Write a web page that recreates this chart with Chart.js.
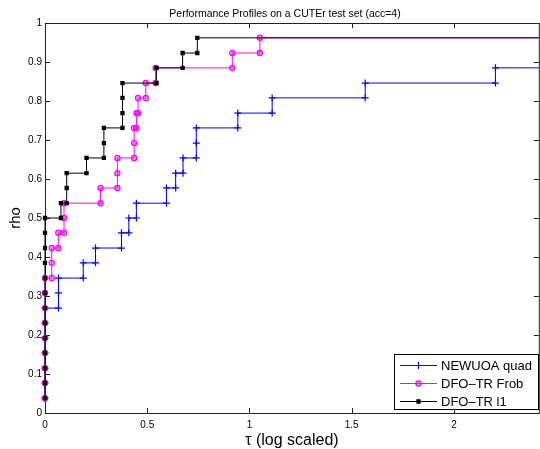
<!DOCTYPE html>
<html>
<head>
<meta charset="utf-8">
<script src="https://cdn.jsdelivr.net/npm/chart.js@4/dist/chart.umd.min.js"></script>
<style>
  html, body { margin: 0; padding: 0; background: #fff; overflow: hidden; }
  canvas { display: block; }
</style>
</head>
<body>
<canvas id="perf" width="544" height="449"></canvas>
<script>
// données (tau en échelle log, rho = fraction des problèmes)
const plotTitle = 'Performance Profiles on a CUTEr test set (acc=4)';
const seriesNames = ['NEWUOA quad', 'DFO\u2013TR Frob', 'DFO\u2013TR l1'];

const newuoaTau = [0, 0, 0, 0, 0, 0, 0, 0.066, 0.066, 0.187, 0.247, 0.374, 0.410, 0.447,
  0.594, 0.639, 0.675, 0.740, 0.740, 0.943, 1.111, 1.566, 2.203];
const newuoaRho = [0.038, 0.077, 0.115, 0.154, 0.192, 0.231, 0.269, 0.308, 0.346, 0.385, 0.423, 0.462, 0.500, 0.538,
  0.577, 0.615, 0.654, 0.692, 0.731, 0.769, 0.808, 0.846, 0.885];

const frobTau = [0, 0, 0, 0, 0, 0, 0, 0, 0, 0.033, 0.033, 0.065, 0.093, 0.093,
  0.272, 0.354, 0.354, 0.436, 0.436, 0.447, 0.455, 0.493, 0.541, 0.916, 1.051];
const frobRho = [0.038, 0.077, 0.115, 0.154, 0.192, 0.231, 0.269, 0.308, 0.346, 0.385, 0.423, 0.462, 0.500, 0.538,
  0.577, 0.615, 0.654, 0.692, 0.731, 0.769, 0.808, 0.846, 0.885, 0.923, 0.962];

const l1Tau = [0, 0, 0, 0, 0, 0, 0, 0, 0, 0, 0, 0, 0, 0.078,
  0.106, 0.106, 0.203, 0.288, 0.288, 0.379, 0.379, 0.379, 0.545, 0.673, 0.745];
const l1Rho = [0.038, 0.077, 0.115, 0.154, 0.192, 0.231, 0.269, 0.308, 0.346, 0.385, 0.423, 0.462, 0.500, 0.538,
  0.577, 0.615, 0.654, 0.692, 0.731, 0.769, 0.808, 0.846, 0.885, 0.923, 0.962];

const tauEnd = 2.5;   // les courbes continuent jusqu'au bord droit
const xTickValues = [0, 0.5, 1, 1.5, 2];
const yTickValues = [0, 0.1, 0.2, 0.3, 0.4, 0.5, 0.6, 0.7, 0.8, 0.9, 1];

const FONT = '"Liberation Sans", Arial, Helvetica, sans-serif';

// escalier façon matlab : un point à chaque coin
function stairPoints(tau, rho) {
  const pts = [];
  for (let i = 0; i < tau.length; i++) {
    pts.push({ x: tau[i], y: rho[i] });
    const next = i + 1 < tau.length ? tau[i + 1] : tauEnd;
    if (next !== tau[i]) pts.push({ x: next, y: rho[i] });
  }
  return pts;
}

const styles = [
  { color: '#0000ff', marker: 'cross', radius: 3.5, fill: '#0000ff', order: 3 },
  { color: '#ff00ff', marker: 'circle', radius: 2.6, fill: 'rgba(255,0,255,0.35)', order: 2 },
  { color: '#000000', marker: 'rect', radius: 2.2, fill: '#000000', order: 1 }
];
const seriesData = [stairPoints(newuoaTau, newuoaRho), stairPoints(frobTau, frobRho), stairPoints(l1Tau, l1Rho)];

const datasets = seriesData.map((pts, i) => ({
  label: seriesNames[i],
  data: pts,
  borderColor: styles[i].color,
  borderWidth: 1,
  backgroundColor: styles[i].fill,
  pointStyle: styles[i].marker,
  pointRadius: styles[i].radius,
  pointBorderColor: styles[i].color,
  pointBackgroundColor: styles[i].fill,
  pointBorderWidth: 1.2,
  fill: false,
  tension: 0,
  order: styles[i].order,
  clip: { left: 6, top: 6, right: 0, bottom: 6 }
}));

// cadre, graduations internes, titre et légende à la matlab
const matlabFrame = {
  id: 'matlabFrame',
  beforeDatasetsDraw(chart) {
    const { ctx, chartArea: a, scales } = chart;
    ctx.save();
    ctx.strokeStyle = '#222';
    ctx.lineWidth = 1;
    ctx.strokeRect(a.left + 0.5, a.top + 0.5, a.right - a.left, a.bottom - a.top);
    ctx.beginPath();
    const tl = 5;
    xTickValues.forEach(v => {
      const px = Math.round(scales.x.getPixelForValue(v)) + 0.5;
      ctx.moveTo(px, a.bottom); ctx.lineTo(px, a.bottom - tl);
      ctx.moveTo(px, a.top); ctx.lineTo(px, a.top + tl);
    });
    yTickValues.forEach(v => {
      const py = Math.round(scales.y.getPixelForValue(v)) + 0.5;
      ctx.moveTo(a.left, py); ctx.lineTo(a.left + tl, py);
      ctx.moveTo(a.right, py); ctx.lineTo(a.right - tl, py);
    });
    ctx.stroke();
    ctx.restore();
  },
  afterDraw(chart) {
    const { ctx } = chart;
    ctx.save();
    // titre
    ctx.fillStyle = '#000';
    ctx.font = '10.5px ' + FONT;
    ctx.textAlign = 'center';
    ctx.textBaseline = 'middle';
    ctx.fillText(plotTitle, 285, 14);

    // légende
    const bx = 394.5, by = 354.5, bw = 144, bh = 55;
    ctx.fillStyle = '#fff';
    ctx.fillRect(bx, by, bw, bh);
    ctx.strokeStyle = '#000';
    ctx.lineWidth = 1;
    ctx.strokeRect(bx, by, bw, bh);
    ctx.font = '13px ' + FONT;
    ctx.textAlign = 'left';
    seriesNames.forEach((name, i) => {
      const y = 365.5 + i * 18;
      const st = styles[i];
      ctx.strokeStyle = st.color;
      ctx.lineWidth = 1;
      ctx.beginPath();
      ctx.moveTo(400, y); ctx.lineTo(437, y);
      ctx.stroke();
      const mx = 418.5;
      ctx.fillStyle = st.fill;
      ctx.lineWidth = 1.2;
      ctx.beginPath();
      if (st.marker === 'cross') {
        ctx.moveTo(mx - st.radius, y); ctx.lineTo(mx + st.radius, y);
        ctx.moveTo(mx, y - st.radius); ctx.lineTo(mx, y + st.radius);
        ctx.stroke();
      } else if (st.marker === 'circle') {
        ctx.arc(mx, y, st.radius, 0, Math.PI * 2);
        ctx.fill(); ctx.stroke();
      } else {
        const s = st.radius * Math.SQRT1_2;
        ctx.rect(mx - s, y - s, 2 * s, 2 * s);
        ctx.fill(); ctx.stroke();
      }
      ctx.fillStyle = '#000';
      ctx.fillText(name, 441, y + 0.5);
    });
    ctx.restore();
  }
};

const ctx = document.getElementById('perf').getContext('2d');
new Chart(ctx, {
  type: 'line',
  data: { datasets: datasets },
  plugins: [matlabFrame],
  options: {
    responsive: false,
    animation: false,
    devicePixelRatio: 1,
    layout: { padding: { top: 23, right: 3, left: 0, bottom: 0 } },
    plugins: {
      legend: { display: false },
      tooltip: { enabled: false }
    },
    scales: {
      x: {
        type: 'linear',
        min: 0,
        max: 2.415,
        grid: { display: false, drawTicks: false },
        border: { display: false },
        afterBuildTicks: (scale) => { scale.ticks = xTickValues.map(v => ({ value: v })); },
        afterFit: (scale) => { scale.height = 36; },
        ticks: {
          padding: 6,
          color: '#000',
          font: { family: FONT, size: 10 },
          callback: (v) => String(v)
        },
        title: {
          display: true,
          text: '\u03c4 (log scaled)',
          color: '#000',
          font: { family: FONT, size: 16, lineHeight: 1 },
          padding: { top: 0, bottom: 0 }
        }
      },
      y: {
        type: 'linear',
        min: 0,
        max: 1,
        grid: { display: false, drawTicks: false },
        border: { display: false },
        afterBuildTicks: (scale) => { scale.ticks = yTickValues.map(v => ({ value: v })); },
        afterFit: (scale) => { scale.width = 45; },
        ticks: {
          padding: 3,
          color: '#000',
          font: { family: FONT, size: 10 },
          callback: (v) => String(v)
        },
        title: {
          display: true,
          text: 'rho',
          color: '#000',
          font: { family: FONT, size: 15, lineHeight: 1 },
          padding: { top: 8, bottom: 0 }
        }
      }
    }
  }
});
</script>
</body>
</html>
